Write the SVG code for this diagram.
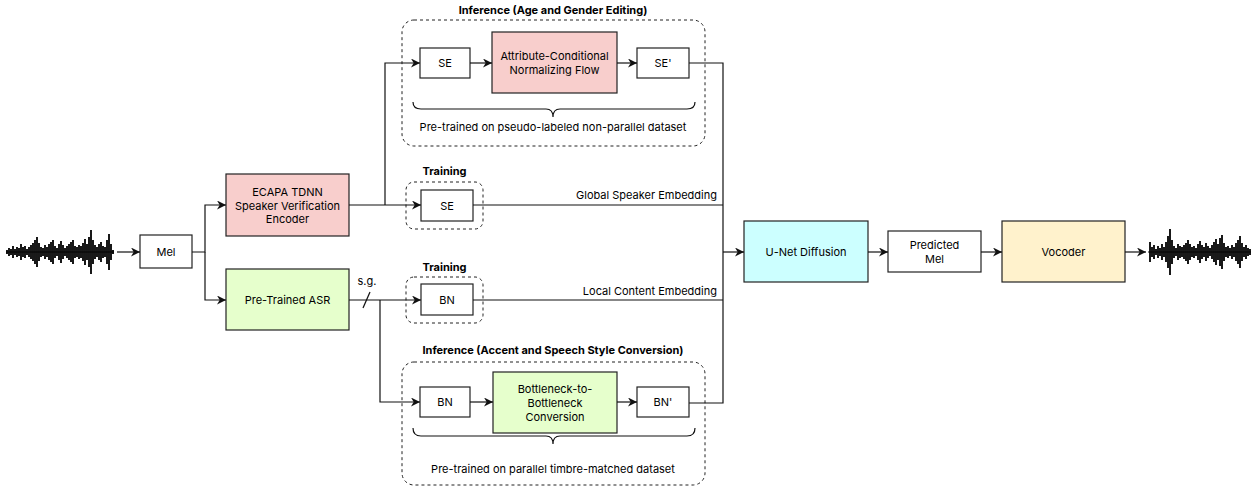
<svg xmlns="http://www.w3.org/2000/svg" width="1254" height="486" viewBox="0 0 1254 486">
<style>
text{font-family:Inter,"Liberation Sans",sans-serif;font-size:11px;fill:#000}
.b{font-weight:bold}
.c{text-anchor:middle;dominant-baseline:central}
.m{text-anchor:middle}
.r{text-anchor:end}
.box{stroke:#222;stroke-width:1.2}
.dash{fill:none;stroke:#222;stroke-width:1;stroke-dasharray:3 3}
.ln{fill:none;stroke:#111;stroke-width:1.2}
.wv{fill:none;stroke:#000;stroke-width:1.8}
</style>
<defs>
<marker id="a" viewBox="0 0 10 10" refX="10" refY="5" markerWidth="9" markerHeight="9" markerUnits="userSpaceOnUse" orient="auto">
<path d="M0,0 L10,5 L0,10 L3,5 z" fill="#111"/>
</marker>
</defs>
<rect width="1254" height="486" fill="#fff"/>

<g id="wave-in">
<path class="ln" d="M6,252 H114" stroke-width="2.5" stroke="#000"/>
<path class="wv" d="M7,250V254M9,248V256M11,249V255M13,246V258M15,249V255M17,247V257M19,248V256M21,244V260M23,247V257M25,246V258M27,249V255M29,247V257M31,245V259M33,243V261M35,240V264M37,237V267M39,243V261M41,247V257M43,248V256M45,245V259M47,247V257M49,244V260M51,242V262M53,240V264M55,246V258M57,248V256M59,244V260M61,241V263M63,245V259M65,248V256M67,246V258M69,244V260M71,242V262M73,240V264M75,246V258M77,247V257M79,245V259M81,246V258M83,243V261M85,239V265M87,244V260M89,237V267M91,230V274M93,240V264M95,245V259M97,247V257M99,244V260M101,242V262M103,246V258M105,247V257M107,240V264M109,234V270M111,244V260M113,250V254"/>
</g>

<g id="mel"><rect class="box" x="140" y="235" width="52" height="33" fill="#fff"/><text class="c" x="166" y="252">Mel</text></g>

<g id="ecapa"><rect class="box" x="226" y="174" width="123" height="62" fill="#f8cecc"/>
<text class="c" x="287.5" y="192">ECAPA TDNN</text><text class="c" x="287.5" y="205.5">Speaker Verification</text><text class="c" x="287.5" y="219">Encoder</text></g>

<g id="asr"><rect class="box" x="226" y="269" width="123" height="61" fill="#e6ffcc"/><text class="c" x="287.5" y="300">Pre-Trained ASR</text></g>

<g id="inf-top">
<rect class="dash" x="402" y="20" width="303" height="126" rx="12"/>
<text class="b m" x="553" y="14">Inference (Age and Gender Editing)</text>
<path class="ln" d="M413,102 Q413,109 421,109 H546 Q553,109 553,117 Q553,109 560,109 H687 Q695,109 695,102"/>
<text class="m" x="553" y="131">Pre-trained on pseudo-labeled non-parallel dataset</text>
</g>
<g id="se-inf"><rect class="box" x="420" y="48" width="50" height="30" fill="#fff"/><text class="c" x="445" y="63">SE</text></g>
<g id="acnf"><rect class="box" x="492" y="32" width="125" height="61" fill="#f8cecc"/><text class="c" x="554.5" y="56">Attribute-Conditional</text><text class="c" x="554.5" y="70">Normalizing Flow</text></g>
<g id="se-prime"><rect class="box" x="637" y="48" width="52" height="30" fill="#fff"/><text class="c" x="663" y="63">SE'</text></g>

<g id="train-se">
<text class="b m" x="444.5" y="175">Training</text>
<rect class="dash" x="406" y="182" width="77" height="47" rx="8"/>
<rect class="box" x="421" y="190" width="52" height="31" fill="#fff"/><text class="c" x="447" y="205.5">SE</text>
</g>

<g id="train-bn">
<text class="b m" x="444.5" y="271">Training</text>
<rect class="dash" x="406" y="277" width="77" height="46" rx="8"/>
<rect class="box" x="421" y="284" width="52" height="31" fill="#fff"/><text class="c" x="447" y="300">BN</text>
</g>

<g id="inf-bot">
<rect class="dash" x="402" y="362" width="303" height="123" rx="12"/>
<text class="b m" x="553" y="354">Inference (Accent and Speech Style Conversion)</text>
<path class="ln" d="M413,428 Q413,436 421,436 H546 Q553,436 553,444 Q553,436 560,436 H687 Q695,436 695,428"/>
<text class="m" x="553" y="473">Pre-trained on parallel timbre-matched dataset</text>
</g>
<g id="bn-inf"><rect class="box" x="420" y="387" width="50" height="30" fill="#fff"/><text class="c" x="445" y="402">BN</text></g>
<g id="b2b"><rect class="box" x="493" y="372" width="124" height="61" fill="#e6ffcc"/><text class="c" x="555" y="389">Bottleneck-to-</text><text class="c" x="555" y="403">Bottleneck</text><text class="c" x="555" y="417">Conversion</text></g>
<g id="bn-prime"><rect class="box" x="637" y="387" width="52" height="30" fill="#fff"/><text class="c" x="663" y="402">BN'</text></g>

<g id="unet"><rect class="box" x="744" y="221" width="124" height="61" fill="#ccffff"/><text class="c" x="806" y="252">U-Net Diffusion</text></g>
<g id="pred"><rect class="box" x="888" y="231" width="93" height="41" fill="#fff"/><text class="c" x="934.5" y="244.5">Predicted</text><text class="c" x="934.5" y="259">Mel</text></g>
<g id="vocoder"><rect class="box" x="1002" y="221" width="123" height="61" fill="#fff2cc"/><text class="c" x="1063.5" y="252">Vocoder</text></g>

<g id="wave-out">
<path class="ln" d="M1148,252 H1251" stroke-width="2.5" stroke="#000"/>
<path class="wv" d="M1150,242V262M1152,247V257M1154,245V259M1156,249V255M1158,246V258M1160,248V256M1162,244V260M1164,247V257M1166,242V262M1168,236V268M1170,229V275M1172,240V264M1174,246V258M1176,248V256M1178,244V260M1180,246V258M1182,247V257M1184,245V259M1186,243V261M1188,240V264M1190,244V260M1192,247V257M1194,246V258M1196,248V256M1198,244V260M1200,241V263M1202,245V259M1204,247V257M1206,243V261M1208,246V258M1210,248V256M1212,245V259M1214,242V262M1216,239V265M1218,244V260M1220,238V266M1222,235V269M1224,243V261M1226,247V257M1228,246V258M1230,248V256M1232,245V259M1234,247V257M1236,243V261M1238,240V264M1240,236V268M1242,243V261M1244,247V257M1246,245V259M1248,248V256M1250,249V255"/>
</g>

<g id="connectors">
<path class="ln" d="M117,252 H140" marker-end="url(#a)"/>
<path class="ln" d="M192,252 H205 V205 H226" marker-end="url(#a)"/>
<path class="ln" d="M205,252 V300 H226" marker-end="url(#a)"/>
<path class="ln" d="M349,205 H421" marker-end="url(#a)"/>
<path class="ln" d="M385,205 V63 H420" marker-end="url(#a)"/>
<path class="ln" d="M470,63 H492" marker-end="url(#a)"/>
<path class="ln" d="M617,63 H637" marker-end="url(#a)"/>
<path class="ln" d="M689,63 H723 V403 H689"/>
<path class="ln" d="M473,205 H723"/>
<path class="ln" d="M473,300 H723"/>
<path class="ln" d="M349,300 H421" marker-end="url(#a)"/>
<path class="ln" d="M380,300 V402 H420" marker-end="url(#a)"/>
<path class="ln" d="M470,402 H493" marker-end="url(#a)"/>
<path class="ln" d="M617,402 H637" marker-end="url(#a)"/>
<path class="ln" d="M723,252 H744" marker-end="url(#a)"/>
<path class="ln" d="M868,252 H888" marker-end="url(#a)"/>
<path class="ln" d="M981,252 H1002" marker-end="url(#a)"/>
<path class="ln" d="M1125,252 H1146" marker-end="url(#a)"/>
<path class="ln" d="M363,308 L370,292"/>
<text class="m" x="367" y="285">s.g.</text>
<text class="r" x="717" y="199">Global Speaker Embedding</text>
<text class="r" x="717" y="295">Local Content Embedding</text>
</g>
</svg>
